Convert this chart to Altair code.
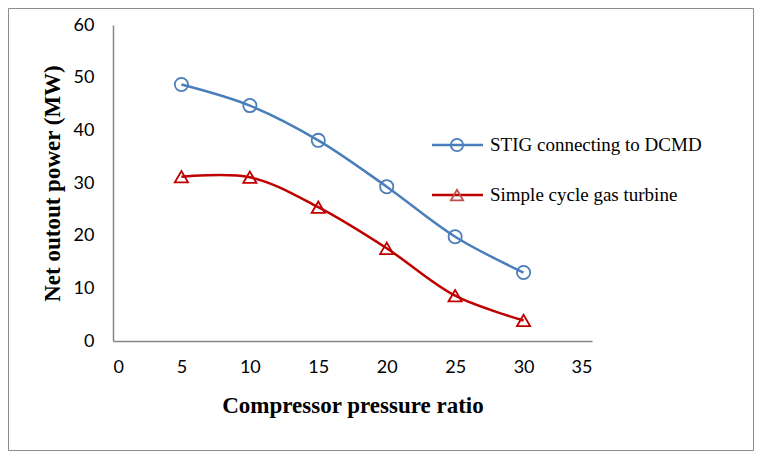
import altair as alt
import pandas as pd

ratio = [5, 10, 15, 20, 25, 30]
stig = [48.7, 44.7, 38.1, 29.3, 19.8, 13.0]
simple = [31.2, 31.1, 25.4, 17.6, 8.6, 3.9]
series_names = ["STIG connecting to DCMD", "Simple cycle gas turbine"]
line_colors = ["#4A7EBB", "#C00000"]
marker_colors = ["#4A7EBB", "#C0504D"]
shapes = ["circle", "triangle-up"]

df = pd.DataFrame({
    "ratio": ratio * 2,
    "power": stig + simple,
    "series": [series_names[0]] * len(ratio) + [series_names[1]] * len(ratio),
})

SERIF = "Liberation Serif"
SANS = "Lato"
W, H = 479, 316

x_enc = alt.X("ratio:Q", scale=alt.Scale(domain=[0, 35], nice=False),
              axis=alt.Axis(values=[0, 5, 10, 15, 20, 25, 30, 35], title="Compressor pressure ratio",
                            labelPadding=17, titlePadding=18, labelOverlap=False))
y_enc = alt.Y("power:Q", scale=alt.Scale(domain=[0, 60], nice=False),
              axis=alt.Axis(values=[0, 10, 20, 30, 40, 50, 60], title="Net outout power (MW)",
                            labelPadding=19, titlePadding=9))

base = alt.Chart(df)
lines = base.mark_line(interpolate="catmull-rom", strokeWidth=2.5).encode(
    x=x_enc, y=y_enc,
    color=alt.Color("series:N", scale=alt.Scale(domain=series_names, range=line_colors), legend=None),
    detail="series:N",
)
points = base.mark_point(filled=False, strokeWidth=1.8, size=175, opacity=1).encode(
    x=x_enc, y=y_enc,
    shape=alt.Shape("series:N", scale=alt.Scale(domain=series_names, range=shapes), legend=None),
    color=alt.Color("series:N", scale=alt.Scale(domain=series_names, range=marker_colors), legend=None),
)

one = alt.Data(values=[{"k": 0}])
legend_layers = []
for i, name in enumerate(series_names):
    yy = 120 + 50 * i
    legend_layers.append(alt.Chart(one).mark_rule(strokeWidth=2.5, color=line_colors[i]).encode(
        x=alt.value(319), x2=alt.value(370), y=alt.value(yy)))
    legend_layers.append(alt.Chart(one).mark_point(filled=False, strokeWidth=1.8, size=150,
                                                   shape=shapes[i], color=marker_colors[i], opacity=1).encode(
        x=alt.value(344), y=alt.value(yy)))
    legend_layers.append(alt.Chart(one).mark_text(align="left", baseline="middle", font=SERIF,
                                                  fontSize=19, color="black").encode(
        x=alt.value(377), y=alt.value(yy), text=alt.value(name)))

border = alt.Chart(one).mark_rect(filled=False, stroke="#8C8C8C", strokeWidth=1).encode(
    x=alt.value(-104.5), x2=alt.value(640.5), y=alt.value(-16.5), y2=alt.value(425.5))

chart = alt.layer(border, lines, points, *legend_layers).properties(
    width=W, height=H,
    autosize=alt.AutoSizeParams(type="none"),
    padding={"left": 105, "top": 17, "right": 162, "bottom": 110},
).configure_view(stroke=None).configure_axis(
    grid=False, ticks=False, domainColor="#868686", domainWidth=1.5,
    labelFont=SANS, labelFontSize=18, labelColor="black",
    titleFont=SERIF, titleFontSize=23, titleFontWeight="bold", titleColor="black",
)

chart.save("out.html", embed_options={"renderer": "svg", "actions": False})
